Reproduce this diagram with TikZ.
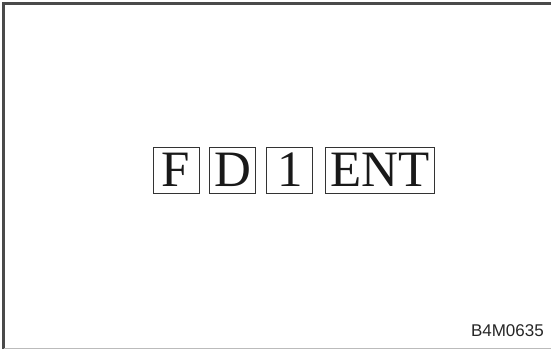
\documentclass[tikz,border=0pt]{standalone}
\usepackage{fontspec}
\setmainfont{Liberation Serif}
\newfontfamily\labelfont{Liberation Sans}
\usepackage{xcolor}
\usetikzlibrary{positioning}
\definecolor{C_FRAME}{HTML}{4A4A4A}
\definecolor{C_BASE} {HTML}{BBBBBB}
\definecolor{C_KEY}  {HTML}{333333}
\tikzset{
  %% -- key box --
  key/.style={
    draw=C_KEY, line width=0.9pt, inner sep=0pt,
    minimum width=46pt, minimum height=46pt,
    font=\fontsize{51}{51}\selectfont, text=black!90
  },
  %% -- wide key box --
  keywide/.style={key, minimum width=109pt},
  %% -- figure code --
  figcode/.style={font=\labelfont\fontsize{17}{17}\selectfont, text=black!85, inner sep=0pt},
}
\begin{document}
\begin{tikzpicture}[x=1pt, y=1pt]
\useasboundingbox (0,0) rectangle (551,350);

%% Frame
\draw[C_FRAME, line width=2.2pt] (551,346.5) -- (3.5,346.5) -- (3.5,0.5);
\draw[C_BASE, line width=1pt] (3.5,1.5) -- (551,1.5);

%% Keys
\node[key]     (kf)   at (176,180) {F};
\node[key]     (kd)   [right=10pt of kf] {D};
\node[key]     (kone) [right=10pt of kd] {1};
\node[keywide] (kent) [right=12pt of kone] {ENT};

%% Figure code
\node[figcode, anchor=base east] (code) at (544,13) {B4M0635};
\end{tikzpicture}
\end{document}
